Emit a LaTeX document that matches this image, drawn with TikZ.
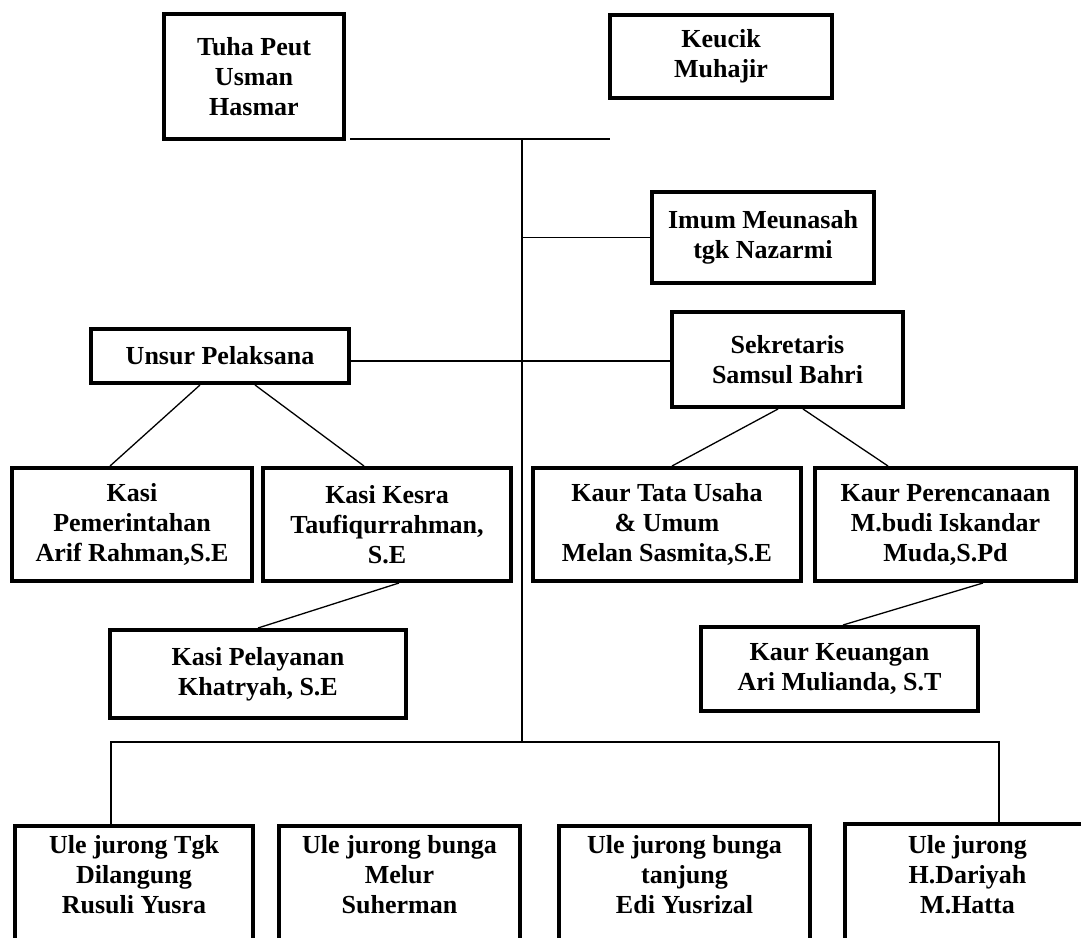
\documentclass[tikz,border=0pt]{standalone}
\usepackage{fontspec}
\setmainfont{Liberation Serif}
\usetikzlibrary{calc}

\begin{document}
\begin{tikzpicture}[x=1pt,y=-1pt,
        kotak/.style={draw,line width=4pt,align=center,inner sep=0pt,font=\fontsize{26}{30}\selectfont\bfseries},
        teks/.style={align=center,inner sep=0pt,font=\fontsize{26}{30}\selectfont\bfseries},
        garis/.style={line width=1.3pt}]
                \clip (0,0) rectangle (1081,937);
                % pimpinan
                \node[kotak,minimum width=180pt,minimum height=125pt] (tuha) at (254,76.5) {Tuha Peut\\Usman\\Hasmar};
                \node[kotak,minimum width=222pt,minimum height=83pt] (keucik) at (721,56.5) {Keucik\\Muhajir};
                \node[kotak,minimum width=222pt,minimum height=91pt] (imum) at (763,237.5) {Imum Meunasah\\ tgk Nazarmi};
                \node[kotak,minimum width=258pt,minimum height=54pt] (unsur) at (220,356) {Unsur Pelaksana};
                \node[kotak,minimum width=231pt,minimum height=95pt] (sek) at (787.5,359.5) {Sekretaris\\Samsul Bahri};
                % kasi dan kaur
                \node[kotak,minimum width=240pt,minimum height=113pt] (kasipem) at (132,524.5) {Kasi\\Pemerintahan\\Arif Rahman,S.E};
                \node[kotak,minimum width=248pt,minimum height=113pt] (kesra) at (387,524.5) {Kasi Kesra\\Taufiqurrahman,\\S.E};
                \node[kotak,minimum width=268pt,minimum height=113pt] (tata) at (667,524.5) {Kaur Tata Usaha\\\& Umum\\Melan Sasmita,S.E};
                \node[kotak,minimum width=261pt,minimum height=113pt] (per) at (945.5,524.5) {Kaur Perencanaan\\M.budi Iskandar\\Muda,S.Pd};
                \node[kotak,minimum width=296pt,minimum height=88pt] (layan) at (258,674) {Kasi Pelayanan\\Khatryah, S.E};
                \node[kotak,minimum width=277pt,minimum height=84pt] (uang) at (839.5,669) {Kaur Keuangan\\Ari Mulianda, S.T};
                % ule jurong
                \node[kotak,anchor=north,minimum width=238pt,minimum height=160pt] (ule1) at (134,824) {};
                \node[kotak,anchor=north,minimum width=241pt,minimum height=160pt] (ule2) at (399.5,824) {};
                \node[kotak,anchor=north,minimum width=251pt,minimum height=160pt] (ule3) at (684.5,824) {};
                \node[kotak,anchor=north,minimum width=245pt,minimum height=160pt] (ule4) at (967.5,822) {};
                \node[teks,anchor=north] (t1) at ($(ule1.north)+(0,11)$) {Ule jurong Tgk\\Dilangung\\Rusuli Yusra};
                \node[teks,anchor=north] (t2) at ($(ule2.north)+(0,11)$) {Ule jurong bunga\\Melur\\Suherman};
                \node[teks,anchor=north] (t3) at ($(ule3.north)+(0,11)$) {Ule jurong bunga\\tanjung\\Edi Yusrizal};
                \node[teks,anchor=north] (t4) at ($(ule4.north)+(0,13)$) {Ule jurong\\H.Dariyah\\M.Hatta};
                % garis
                \coordinate (atas) at (522,139);
                \coordinate (bawah) at (522,742);
                \draw[garis] ($(tuha.south east)+(4,-2)$) -- (610,139);
                \draw[garis,line width=1.8pt] (atas) -- (bawah);
                \draw[garis] (atas |- imum.west) -- (imum.west);
                \draw[garis] (unsur.east |- 0,361) -- (sek.west |- 0,361);
                \draw[garis] ($(unsur.south)+(-20,0)$) -- ($(kasipem.north)+(-22,0)$);
                \draw[garis] ($(unsur.south)+(35,0)$) -- ($(kesra.north)+(-23,0)$);
                \draw[garis] ($(kesra.south)+(12,0)$) -- (layan.north);
                \draw[garis] ($(sek.south)+(-9.5,0)$) -- ($(tata.north)+(5,0)$);
                \draw[garis] ($(sek.south)+(15.5,0)$) -- ($(per.north)+(-57.5,0)$);
                \draw[garis] ($(per.south)+(37.5,0)$) -- ($(uang.north)+(3.5,0)$);
                \draw[garis,line width=1.8pt] ($(ule1.north)+(-23,0)$) |- (bawah) -| ($(ule4.north)+(31.5,0)$);
                \draw[garis] ($(ule2.north)+(-18.5,0)$) -- ($(ule2.north)+(-18.5,0)$ |- bawah);
                \draw[garis] ($(ule3.north)+(-19.5,0)$) -- ($(ule3.north)+(-19.5,0)$ |- bawah);
\end{tikzpicture}
\end{document}
